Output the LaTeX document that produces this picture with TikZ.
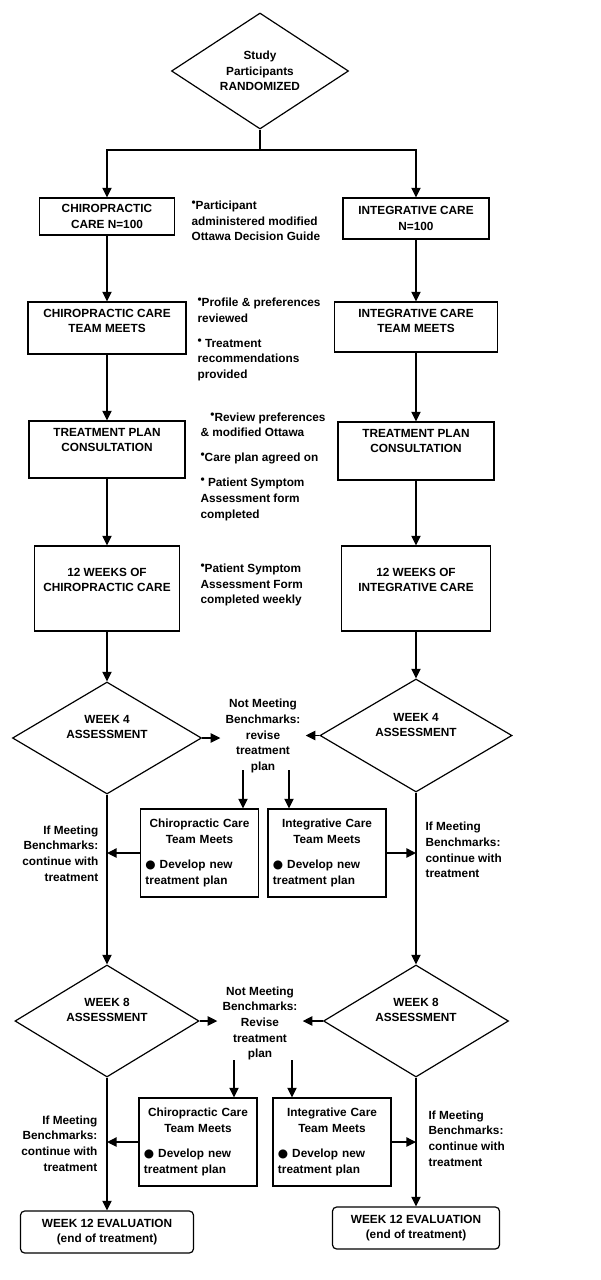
\documentclass[tikz,border=0pt]{standalone}
\usepackage{fontspec}
\setmainfont{Liberation Sans}
\newfontfamily\dotfont{DejaVu Sans}
\usetikzlibrary{shapes.geometric,arrows.meta}
\newcommand\chartfont{\fontsize{8.4}{11.1}\selectfont\bfseries}
\newcommand\sbul{\raisebox{0.25em}{\textbullet}}
\newcommand\bbul{{\dotfont ●}}

\begin{document}
\begin{tikzpicture}[x=0.025cm, y=-0.025cm, line width=0.85pt,
	every node/.style={font=\chartfont},
	box/.style={draw, rectangle, align=center},
	endbox/.style={draw, rectangle, rounded corners=3pt, align=center, minimum height=1.05cm},
	dia/.style={draw, diamond, aspect=1.5, inner sep=0pt, align=center},
	txt/.style={align=center},
	note/.style={align=left, inner sep=0pt, anchor=west},
	revbox/.style={draw, rectangle, text width=2.7cm, inner xsep=0.125cm, minimum height=2.2cm, align=left},
	arr/.style={-{Triangle[length=6.8pt,width=6.6pt]}}]
	\fill[white] (0,0) rectangle (600,1280);
	% randomisation
	\node[dia, minimum width=4.425cm, minimum height=2.9cm] (start) at (260,71) {Study\\Participants\\RANDOMIZED};
	\coordinate (split) at (260,150);
	\draw (start.south) -- (split);
	% chiropractic arm
	\node[box, minimum width=3.375cm, minimum height=0.925cm] (chiroN) at (107,216.5) {CHIROPRACTIC\\CARE N=100};
	\node[box, minimum width=3.95cm, minimum height=1.3cm] (chiroMeet) at (107,328) {};
	\node[txt] (chiroMeetT) at (107,321) {CHIROPRACTIC CARE\\TEAM MEETS};
	\node[box, minimum width=3.9cm, minimum height=1.425cm] (chiroPlan) at (107,449.5) {};
	\node[txt] (chiroPlanT) at (107,440) {TREATMENT PLAN\\CONSULTATION};
	\node[box, minimum width=3.625cm, minimum height=2.125cm] (chiroWeeks) at (107,588.5) {};
	\node[txt] (chiroWeeksT) at (107,580) {12 WEEKS OF\\CHIROPRACTIC CARE};
	\node[dia, minimum width=4.725cm, minimum height=2.8cm] (chiroWk4) at (107,738) {};
	\node[txt] (chiroWk4T) at (107,727) {WEEK 4\\ASSESSMENT};
	\node[dia, minimum width=4.6cm, minimum height=2.8cm] (chiroWk8) at (107,1021) {};
	\node[txt] (chiroWk8T) at (107,1010) {WEEK 8\\ASSESSMENT};
	\node[endbox, minimum width=4.325cm] (chiroEnd) at (107,1232) {WEEK 12 EVALUATION\\(end of treatment)};
	% integrative arm
	\node[box, minimum width=3.65cm, minimum height=1.025cm] (integN) at (416,218.5) {INTEGRATIVE CARE\\N=100};
	\node[box, minimum width=4.075cm, minimum height=1.25cm] (integMeet) at (416,327) {};
	\node[txt] (integMeetT) at (416,321) {INTEGRATIVE CARE\\TEAM MEETS};
	\node[box, minimum width=3.9cm, minimum height=1.45cm] (integPlan) at (416,451) {};
	\node[txt] (integPlanT) at (416,441) {TREATMENT PLAN\\CONSULTATION};
	\node[box, minimum width=3.725cm, minimum height=2.125cm] (integWeeks) at (416,588.5) {};
	\node[txt] (integWeeksT) at (416,580) {12 WEEKS OF\\INTEGRATIVE CARE};
	\node[dia, minimum width=4.8cm, minimum height=2.825cm] (integWk4) at (416,735.5) {};
	\node[txt] (integWk4T) at (416,725) {WEEK 4\\ASSESSMENT};
	\node[dia, minimum width=4.625cm, minimum height=2.8cm] (integWk8) at (416,1021) {};
	\node[txt] (integWk8T) at (416,1010) {WEEK 8\\ASSESSMENT};
	\node[endbox, minimum width=4.175cm] (integEnd) at (416,1228) {WEEK 12 EVALUATION\\(end of treatment)};
	% notes between the arms
	\node[note] (noteA) at (191,221) {\sbul Participant\\administered modified\\Ottawa Decision Guide};
	\node[note] (noteB) at (197,339.5) {\sbul Profile \& preferences\\reviewed\\[6.7pt]\sbul\ Treatment\\recommendations\\provided};
	\node[note] (noteC) at (200,466.5) {\hspace*{7pt}\sbul Review preferences\\\& modified Ottawa\\[6.7pt]\sbul Care plan agreed on\\[6.7pt]\sbul\ Patient Symptom\\Assessment form\\completed};
	\node[note] (noteD) at (200,585) {\sbul Patient Symptom\\Assessment Form\\completed weekly};
	% week 4 revision
	\node[txt] (notMeet4) at (263,736) {Not Meeting\\Benchmarks:\\revise\\treatment\\plan};
	\coordinate (rev4a) at (243,770);
	\coordinate (rev4b) at (289,770);
	\node[revbox] (chiroRev4) at (199.5,853) {{\centering Chiropractic Care\\Team Meets\par}\vspace{7pt}\bbul{} Develop new\\treatment plan};
	\node[revbox] (integRev4) at (327,853) {{\centering Integrative Care\\Team Meets\par}\vspace{7pt}\bbul{} Develop new\\treatment plan};
	\node[note, anchor=east, align=right] (ifMeetL4) at (99,853.5) {If Meeting\\Benchmarks:\\continue with\\treatment};
	\node[note] (ifMeetR4) at (425,850) {If Meeting\\Benchmarks:\\continue with\\treatment};
	% week 8 revision
	\node[txt] (notMeet8) at (260,1023.5) {Not Meeting\\Benchmarks:\\Revise\\treatment\\plan};
	\coordinate (rev8a) at (234,1060);
	\coordinate (rev8b) at (292,1060);
	\node[revbox] (chiroRev8) at (198,1142) {{\centering Chiropractic Care\\Team Meets\par}\vspace{7pt}\bbul{} Develop new\\treatment plan};
	\node[revbox] (integRev8) at (332,1142) {{\centering Integrative Care\\Team Meets\par}\vspace{7pt}\bbul{} Develop new\\treatment plan};
	\node[note, anchor=east, align=right] (ifMeetL8) at (98,1143.5) {If Meeting\\Benchmarks:\\continue with\\treatment};
	\node[note] (ifMeetR8) at (428,1138.5) {If Meeting\\Benchmarks:\\continue with\\treatment};
	% connectors
	\draw[arr] (split) -| (chiroN.north);
	\draw[arr] (split) -| (integN.north);
	\draw[arr] (chiroN) -- (chiroMeet);
	\draw[arr] (chiroMeet) -- (chiroPlan);
	\draw[arr] (chiroPlan) -- (chiroWeeks);
	\draw[arr] (chiroWeeks) -- (chiroWk4);
	\draw[arr] (chiroWk4) -- (chiroWk8);
	\draw[arr] (chiroWk8) -- (chiroEnd);
	\draw[arr] (integN) -- (integMeet);
	\draw[arr] (integMeet) -- (integPlan);
	\draw[arr] (integPlan) -- (integWeeks);
	\draw[arr] (integWeeks) -- (integWk4);
	\draw[arr] (integWk4) -- (integWk8);
	\draw[arr] (integWk8) -- (integEnd);
	\draw[arr] (chiroWk4.east) -- (chiroWk4.east -| notMeet4.west);
	\draw[arr] (integWk4.west) -- (integWk4.west -| notMeet4.east);
	\draw[arr] (rev4a) -- (rev4a |- chiroRev4.north);
	\draw[arr] (rev4b) -- (rev4b |- integRev4.north);
	\draw[arr] (chiroRev4.west) -- (chiroRev4.west -| chiroWk4.south);
	\draw[arr] (integRev4.east) -- (integRev4.east -| integWk4.south);
	\draw[arr] (chiroWk8.east) -- (chiroWk8.east -| notMeet8.west);
	\draw[arr] (integWk8.west) -- (integWk8.west -| notMeet8.east);
	\draw[arr] (rev8a) -- (rev8a |- chiroRev8.north);
	\draw[arr] (rev8b) -- (rev8b |- integRev8.north);
	\draw[arr] (chiroRev8.west) -- (chiroRev8.west -| chiroWk8.south);
	\draw[arr] (integRev8.east) -- (integRev8.east -| integWk8.south);
\end{tikzpicture}
\end{document}
